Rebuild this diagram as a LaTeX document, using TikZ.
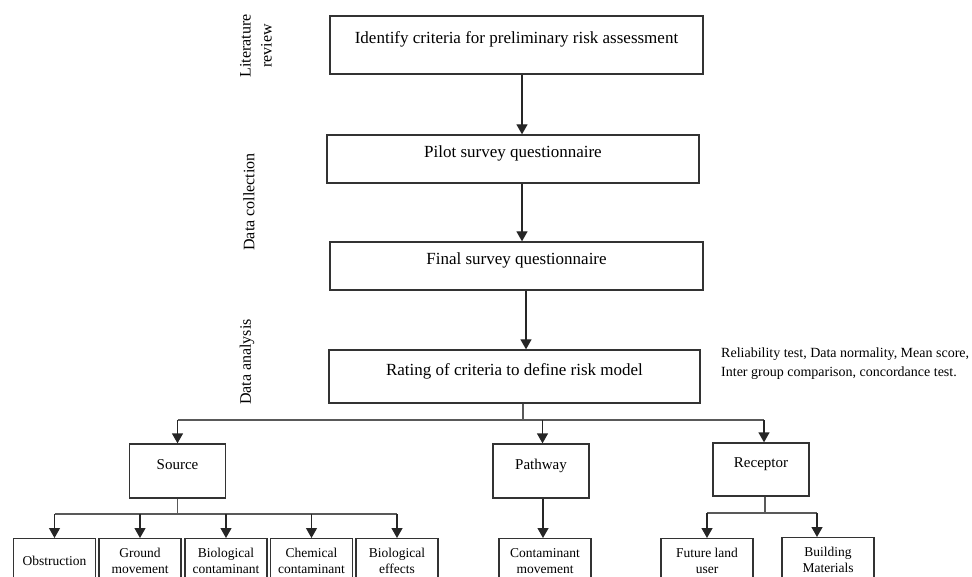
\documentclass[tikz,border=0pt]{standalone}
\usepackage{fontspec}
\setmainfont{Liberation Serif}
\usetikzlibrary{arrows.meta}
\begin{document}
\begin{tikzpicture}[x=1pt,y=-1pt,
    stage/.style={draw=black!80, line width=1.3pt, font=\fontsize{17}{20}\selectfont, text height=12pt, text depth=14pt},
    group/.style={draw=black!80, line width=1.3pt, minimum width=96pt, minimum height=54pt, font=\fontsize{15}{18}\selectfont, text height=11pt, text depth=15pt},
    leaf/.style={draw=black!80, line width=1.3pt, anchor=north, minimum width=82pt, inner ysep=9pt, inner xsep=2pt, align=center, font=\fontsize{13.5}{16}\selectfont, text height=26pt, text depth=16pt},
    phase/.style={rotate=90, align=center, font=\fontsize{16}{21}\selectfont},
    arr/.style={-{Triangle[width=11pt,length=10pt]}, line width=1.3pt, black!85},
    bus/.style={line width=1.3pt, black!65}]
    \useasboundingbox (0,0) rectangle (972,577);
    \node[phase] (litrev) at (256,46) {Literature\\review};
    \node[phase] (datacol) at (249,202) {Data collection};
    \node[phase] (dataana) at (247,362) {Data analysis};
    \node[stage, minimum width=373pt, minimum height=58pt] (identify) at (516.5,45) {Identify criteria for preliminary risk assessment};
    \node[stage, minimum width=372pt, minimum height=48pt] (pilot) at (513,159) {Pilot survey questionnaire};
    \node[stage, minimum width=373pt, minimum height=48pt] (final) at (516.5,266) {Final survey questionnaire};
    \node[stage, minimum width=371pt, minimum height=53pt] (rating) at (514.5,376.5) {Rating of criteria to define risk model};
    \node[anchor=west, inner sep=0pt, align=left, font=\fontsize{14}{19}\selectfont] (tests) at (721,364) {Reliability test, Data normality, Mean score,\\Inter group comparison, concordance test.};
    \draw[arr] ([xshift=5.5pt]identify.south) -- ([xshift=5.5pt]identify.south |- pilot.north);
    \draw[arr] ([xshift=9pt]pilot.south) -- ([xshift=9pt]pilot.south |- final.north);
    \draw[arr] ([xshift=9.5pt]final.south) -- ([xshift=9.5pt]final.south |- rating.north);
    \node[group] (source) at (177.5,471) {Source};
    \node[group] (pathway) at (541,471) {Pathway};
    \node[group, minimum height=53pt] (receptor) at (761,469.5) {Receptor};
    \coordinate (topbus) at (523,420);
    \draw[bus] (rating.south -| topbus) -- (topbus);
    \draw[bus] (source.north |- topbus) -- ([xshift=3pt]receptor.north |- topbus);
    \draw[arr] (source.north |- topbus) -- (source.north);
    \draw[arr] ([xshift=1.5pt]pathway.north |- topbus) -- ([xshift=1.5pt]pathway.north);
    \draw[arr] ([xshift=3pt]receptor.north |- topbus) -- ([xshift=3pt]receptor.north);
    \node[leaf, text height=18pt] (obstruction) at (54.5,538) {Obstruction};
    \node[leaf] (ground) at (140,538) {Ground\\movement};
    \node[leaf] (biocont) at (226,538) {Biological\\contaminant};
    \node[leaf] (chemcont) at (311.5,538) {Chemical\\contaminant};
    \node[leaf] (bioeff) at (397,538) {Biological\\effects};
    \node[leaf, minimum width=92pt] (movement) at (545,538) {Contaminant\\movement};
    \node[leaf, minimum width=92pt] (future) at (707,538) {Future land\\user};
    \node[leaf, minimum width=92pt] (building) at (828,537) {Building\\Materials};
    \coordinate (srcbus) at (177,514);
    \draw[bus] (source.south) -- (source.south |- srcbus);
    \draw[bus] (obstruction.north |- srcbus) -- (bioeff.north |- srcbus);
    \foreach \leafname in {obstruction,ground,biocont,chemcont,bioeff}
      \draw[arr] (\leafname.north |- srcbus) -- (\leafname.north);
    \draw[arr] ([xshift=2pt]pathway.south) -- ([xshift=2pt]pathway.south |- movement.north);
    \coordinate (recbus) at (765,513);
    \draw[bus] ([xshift=4pt]receptor.south) -- (recbus);
    \draw[bus] (future.north |- recbus) -- ([xshift=-11pt]building.north |- recbus);
    \draw[arr] (future.north |- recbus) -- (future.north);
    \draw[arr] ([xshift=-11pt]building.north |- recbus) -- ([xshift=-11pt]building.north);
\end{tikzpicture}
\end{document}
